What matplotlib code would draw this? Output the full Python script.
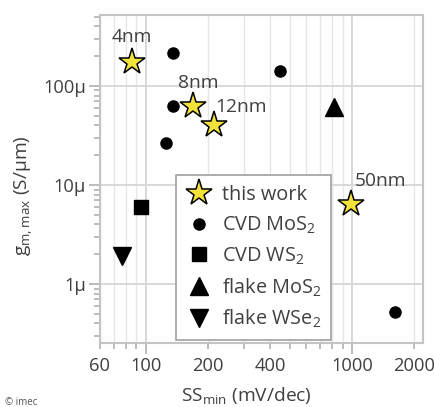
import numpy as np
import matplotlib.pyplot as plt
from matplotlib.ticker import FixedLocator, FixedFormatter, NullFormatter, LogLocator

plt.rcParams['font.family'] = ['Open Sans', 'DejaVu Sans']
plt.rcParams['mathtext.fontset'] = 'custom'
plt.rcParams['mathtext.rm'] = 'Open Sans'
plt.rcParams['mathtext.it'] = 'Open Sans:italic'
plt.rcParams['mathtext.bf'] = 'Open Sans:bold'

# this work
star_x = [86, 170, 215, 990]
star_y = [1.75e-4, 6.3e-5, 4.0e-5, 6.4e-6]
star_lbl = ['4nm', '8nm', '12nm', '50nm']
star_off = [(0, 20), (5, 18), (27, 13), (29, 18)]

# literature
cvd_mos2_x = [136, 136, 125, 449, 1614]
cvd_mos2_y = [2.14e-4, 6.3e-5, 2.67e-5, 1.43e-4, 5.25e-7]
cvd_ws2_x = [94.6]
cvd_ws2_y = [6.0e-6]
flake_mos2_x = [817]
flake_mos2_y = [6.2e-5]
flake_wse2_x = [77]
flake_wse2_y = [1.93e-6]

xticks = [60, 100, 200, 400, 1000, 2000]
yticks = [1e-6, 1e-5, 1e-4]
ytick_lbl = ['1µ', '10µ', '100µ']

txt = '#404040'
fs = 13.8

fig, ax = plt.subplots(figsize=(4.34, 4.07), dpi=100)
fig.subplots_adjust(left=0.2304, right=0.9747, bottom=0.1572, top=0.9631)

ax.set_xscale('log')
ax.set_yscale('log')
ax.set_xlim(60, 2200)
ax.set_ylim(2.54e-7, 5.2e-4)

ax.plot(cvd_mos2_x, cvd_mos2_y, 'o', ms=8, color='black', label='CVD MoS$_2$', zorder=3)
ax.plot(cvd_ws2_x, cvd_ws2_y, 's', ms=10.5, color='black', label='CVD WS$_2$', zorder=3)
ax.plot(flake_mos2_x, flake_mos2_y, '^', ms=13, color='black', label='flake MoS$_2$', zorder=3)
ax.plot(flake_wse2_x, flake_wse2_y, 'v', ms=12.5, color='black', label='flake WSe$_2$', zorder=3)
ax.plot(star_x, star_y, '*', ms=20, mfc='#f3e23a', mec='black', mew=1.1,
        label='this work', zorder=4)

for x, y, s, off in zip(star_x, star_y, star_lbl, star_off):
    ax.annotate(s, (x, y), xytext=off, textcoords='offset pixels',
                ha='center', va='baseline', fontsize=fs, color=txt)

# ticks
ax.xaxis.set_major_locator(FixedLocator([100, 1000]))
ax.xaxis.set_major_formatter(FixedFormatter(['100', '1000']))
minor_x = [60, 70, 80, 90, 200, 300, 400, 500, 600, 700, 800, 900, 2000]
ax.xaxis.set_minor_locator(FixedLocator(minor_x))
ax.xaxis.set_minor_formatter(FixedFormatter(
    [str(v) if v in xticks else '' for v in minor_x]))

ax.yaxis.set_major_locator(FixedLocator(yticks))
ax.yaxis.set_major_formatter(FixedFormatter(ytick_lbl))
ax.yaxis.set_minor_locator(LogLocator(base=10, subs=np.arange(2, 10)))
ax.yaxis.set_minor_formatter(NullFormatter())

ax.tick_params(which='both', colors='#b0b0b0', labelcolor=txt, labelsize=13.2, width=1.2)
ax.tick_params(which='major', length=8, pad=2)
ax.tick_params(which='minor', length=4, pad=6)
ax.tick_params(axis='x', which='minor', pad=6)
ax.tick_params(axis='x', which='major', pad=2)

ax.grid(True, which='major', color='#d8d8d8', lw=1.4, zorder=0)
ax.grid(True, which='minor', axis='x', color='#e6e6e6', lw=1.0, zorder=0)
ax.set_axisbelow(True)

for sp in ax.spines.values():
    sp.set_color('#c4c4c4')
    sp.set_linewidth(1.5)

ax.set_xlabel('SS$_{\\mathrm{min}}$ (mV/dec)', fontsize=fs, color=txt)
ax.set_ylabel('g$_{\\mathrm{m,max}}$ (S/µm)', fontsize=fs, color=txt)
ax.xaxis.set_label_coords(0.452, -0.128)
ax.yaxis.set_label_coords(-0.2, 0.448)

h, l = ax.get_legend_handles_labels()
order = [4, 0, 1, 2, 3]
leg = ax.legend([h[i] for i in order], [l[i] for i in order],
                loc='upper left', bbox_to_anchor=(0.235, 0.512), borderaxespad=0,
                fontsize=14.3, frameon=True, fancybox=False, framealpha=1,
                edgecolor='#a0a0a0', borderpad=0.5, handlelength=1.3,
                handletextpad=0.5, labelspacing=0.48, labelcolor=txt)
leg.get_frame().set_linewidth(1.2)

fig.text(0.012, 0.004, '© imec', fontsize=7, color='#555555', va='baseline')

fig.savefig('out.png', dpi=100)
